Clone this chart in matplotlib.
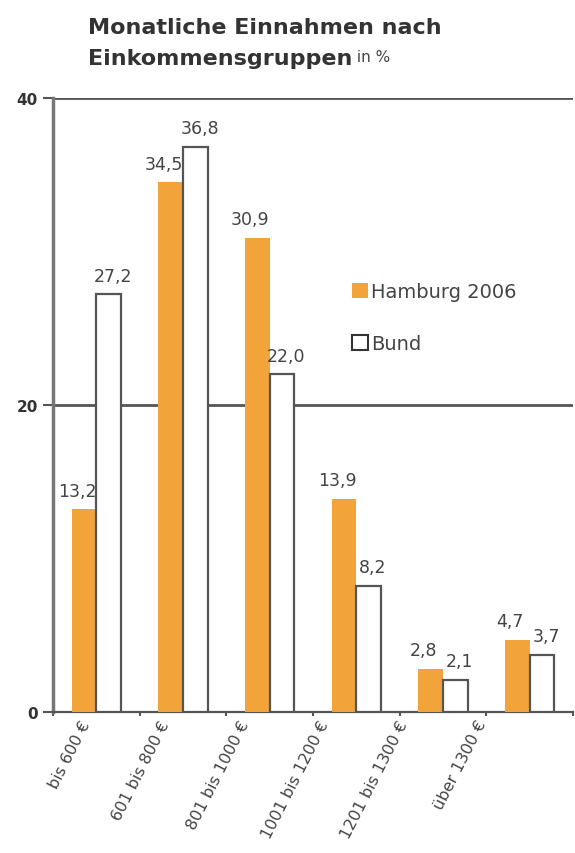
import matplotlib
matplotlib.use('Agg')
import matplotlib.pyplot as plt
import matplotlib.transforms as mtransforms
from matplotlib.patches import Patch
import numpy as np

# data
categories = ['bis 600 €', '601 bis 800 €', '801 bis 1000 €',
              '1001 bis 1200 €', '1201 bis 1300 €', 'über 1300 €']
hamburg = [13.2, 34.5, 30.9, 13.9, 2.8, 4.7]
bund = [27.2, 36.8, 22.0, 8.2, 2.1, 3.7]
yticks = [0, 20, 40]

orange = '#F2A43A'
edge = '#555555'
txt = '#444444'

plt.rcParams['font.family'] = ['DejaVu Sans']

fig = plt.figure(figsize=(5.75, 8.54), dpi=100)
ax = fig.add_axes([53 / 575, 141 / 854, 520 / 575, 614 / 854])

x = np.arange(len(categories))
w = 0.285
b1 = ax.bar(x - w / 2, hamburg, w, color=orange, edgecolor='none', zorder=3)
b2 = ax.bar(x + w / 2, bund, w, color='white', edgecolor=edge, linewidth=1.6, zorder=3)

# value labels with comma decimals
for rect, v in zip(b1, hamburg):
    ax.annotate(f'{v:.1f}'.replace('.', ','), (rect.get_x() + rect.get_width() / 2, v),
                xytext=(-5, 7), textcoords='offset points', ha='center', va='bottom',
                fontsize=12.5, color=txt)
for rect, v in zip(b2, bund):
    ax.annotate(f'{v:.1f}'.replace('.', ','), (rect.get_x() + rect.get_width() / 2, v),
                xytext=(3, 7), textcoords='offset points', ha='center', va='bottom',
                fontsize=12.5, color=txt)

ax.set_xlim(-0.5, len(categories) - 0.5)
ax.set_ylim(0, 40)

# grid lines at 20 and 40
for yv in yticks[1:]:
    ax.axhline(yv, color=edge, linewidth=2, zorder=1)

ax.set_yticks(yticks)
ax.set_yticklabels([str(t) for t in yticks], fontsize=11, fontweight='bold', color='#333333')
ax.tick_params(axis='y', length=7, width=1.5, color=edge, pad=4)

ax.set_xticks(x)
ax.set_xticklabels(categories, rotation=63, ha='right', rotation_mode='anchor',
                   fontsize=11.5, color=txt)
ax.tick_params(axis='x', length=0, pad=4)
ax.set_xticks(np.arange(len(categories) + 1) - 0.5, minor=True)
ax.tick_params(axis='x', which='minor', length=3, width=1.5, color=edge)
# labels drift left the further right they are, as in the original
for i, lab in enumerate(ax.get_xticklabels()):
    shift = mtransforms.ScaledTranslation((-16 - 7.5 * i) / 100, 0, fig.dpi_scale_trans)
    lab.set_transform(lab.get_transform() + shift)

for s in ['top', 'right']:
    ax.spines[s].set_visible(False)
ax.spines['left'].set_color('#777777')
ax.spines['left'].set_linewidth(2.5)
ax.spines['bottom'].set_color(edge)
ax.spines['bottom'].set_linewidth(1.6)

# legend
handles = [Patch(facecolor=orange, edgecolor='none'),
           Patch(facecolor='white', edgecolor='#333333', linewidth=1.5)]
ax.legend(handles, ['Hamburg 2006', 'Bund'], loc='upper left',
          bbox_to_anchor=(352 / 575, 1 - 283 / 854), bbox_transform=fig.transFigure,
          frameon=False, fontsize=14, handlelength=0.8, handleheight=0.8,
          handletextpad=0.2, labelspacing=1.7, borderpad=0, borderaxespad=0,
          labelcolor=txt)

# title
t1 = fig.text(88 / 575, 1 - 28 / 854, 'Monatliche Einnahmen nach', fontsize=16,
              fontweight='bold', color='#333333', ha='left', va='center')
t2 = fig.text(88 / 575, 1 - 59 / 854, 'Einkommensgruppen', fontsize=16,
              fontweight='bold', color='#333333', ha='left', va='center')
ax.annotate(' in %', xy=(1, 0), xycoords=t2, xytext=(0, 3), textcoords='offset points',
            ha='left', va='bottom', fontsize=11, color=txt, annotation_clip=False)

fig.savefig('out.png', dpi=100)
